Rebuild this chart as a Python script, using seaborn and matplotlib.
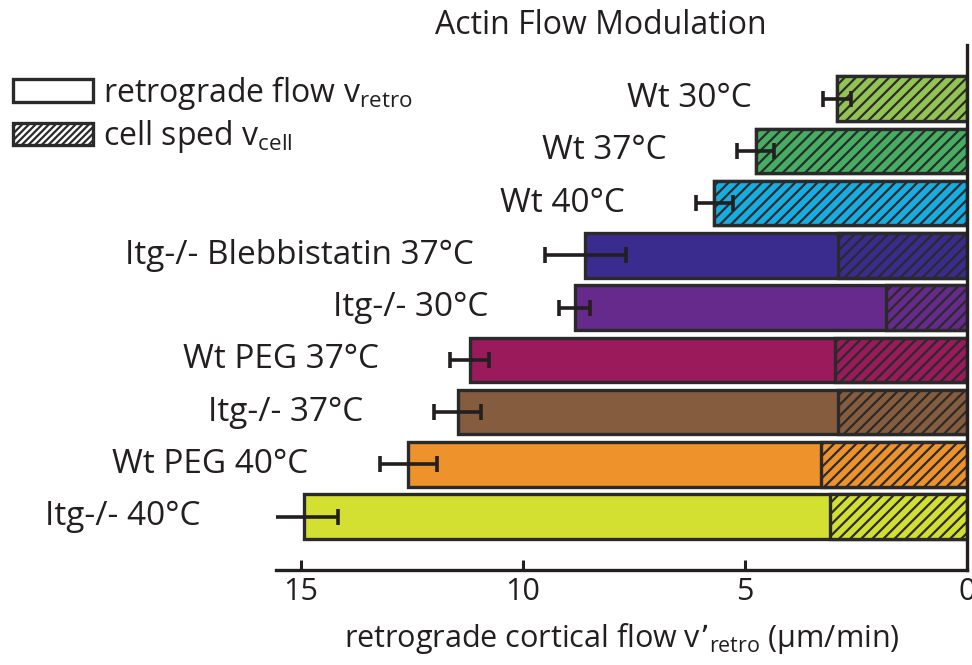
import matplotlib
matplotlib.use("Agg")
import matplotlib.pyplot as plt
from matplotlib.patches import Patch
import seaborn as sns
import pandas as pd

# ---- data -------------------------------------------------------------
conditions = [
    "Wt 30°C",
    "Wt 37°C",
    "Wt 40°C",
    "Itg-/- Blebbistatin 37°C",
    "Itg-/- 30°C",
    "Wt PEG 37°C",
    "Itg-/- 37°C",
    "Wt PEG 40°C",
    "Itg-/- 40°C",
]
retro_flow = [2.93, 4.76, 5.69, 8.60, 8.83, 11.20, 11.47, 12.58, 14.92]
retro_err = [0.32, 0.41, 0.41, 0.91, 0.35, 0.44, 0.53, 0.65, 0.75]
cell_speed = [2.93, 4.76, 5.69, 2.91, 1.83, 2.97, 2.90, 3.29, 3.09]
bar_colors = [
    "#93c453", "#45ae62", "#16ade2", "#3a2c8e", "#66298c",
    "#9a1a5b", "#865c3e", "#ee922c", "#d3e032",
]
x_ticks = [15, 10, 5, 0]

# ---- style ------------------------------------------------------------
sns.set_style("white")
plt.rcParams["font.family"] = ["Open Sans", "DejaVu Sans"]
plt.rcParams["mathtext.default"] = "regular"
plt.rcParams["hatch.linewidth"] = 1.6
ink = "#231f20"
edge = "#2a2a2a"

df = pd.DataFrame({
    "condition": conditions,
    "retro": retro_flow,
    "err": retro_err,
    "cell": cell_speed,
})

fig = plt.figure(figsize=(9.72, 6.65), dpi=100)
ax = fig.add_axes([0.284, 0.143, 0.7109, 0.789])

# full retrograde flow bars
sns.barplot(data=df, x="retro", y="condition", hue="condition",
            palette=bar_colors, legend=False, width=0.85,
            edgecolor=edge, linewidth=2.4, ax=ax, errorbar=None,
            saturation=1)
n = len(conditions)
# cell speed portion, hatched
sns.barplot(data=df, x="cell", y="condition", hue="condition",
            palette=bar_colors, legend=False, width=0.85,
            edgecolor=edge, linewidth=2.4, ax=ax, errorbar=None,
            saturation=1)
for p in ax.patches[n:]:
    p.set_hatch("///")

ypos = list(range(n))
ax.errorbar(df["retro"], ypos, xerr=df["err"], fmt="none", ecolor=ink,
            elinewidth=2.6, capsize=6, capthick=2.6, zorder=5)

# condition labels to the left of each bar
gap = 1.6
for y, v, e, name in zip(ypos, retro_flow, retro_err, conditions):
    ax.text(v + e + gap, y, name, ha="right", va="center",
            fontsize=24, color=ink)

ax.set_xlim(15.56, 0)
ax.set_ylim(n - 1 + 1.02, -1.02)
ax.set_xticks(x_ticks)
ax.set_xticklabels([str(t) for t in x_ticks], fontsize=22, color=ink)
ax.set_yticks([])
ax.set_ylabel("")
ax.set_xlabel("retrograde cortical flow v’$_{retro}$ (µm/min)",
              fontsize=22, color=ink, labelpad=10)
ax.tick_params(axis="x", direction="in", length=7, width=2.2,
               color=ink, pad=5, bottom=True)

for side in ("left", "top"):
    ax.spines[side].set_visible(False)
for side in ("right", "bottom"):
    ax.spines[side].set_visible(True)
    ax.spines[side].set_linewidth(2.4)
    ax.spines[side].set_color(ink)

fig.text(0.618, 0.962, "Actin Flow Modulation", ha="center", va="center",
         fontsize=23, color=ink)

handles = [
    Patch(facecolor="white", edgecolor=edge, linewidth=2.4,
          label="retrograde flow v$_{retro}$"),
    Patch(facecolor="white", edgecolor=edge, linewidth=2.4, hatch="/////",
          label="cell sped v$_{cell}$"),
]
fig.legend(handles=handles, loc="upper left", bbox_to_anchor=(-0.006, 0.918),
           frameon=False, fontsize=23, handlelength=2.5, handleheight=0.7,
           handletextpad=0.3, labelspacing=0.2, borderpad=0.1,
           labelcolor=ink)

fig.savefig("out.png", dpi=100)
